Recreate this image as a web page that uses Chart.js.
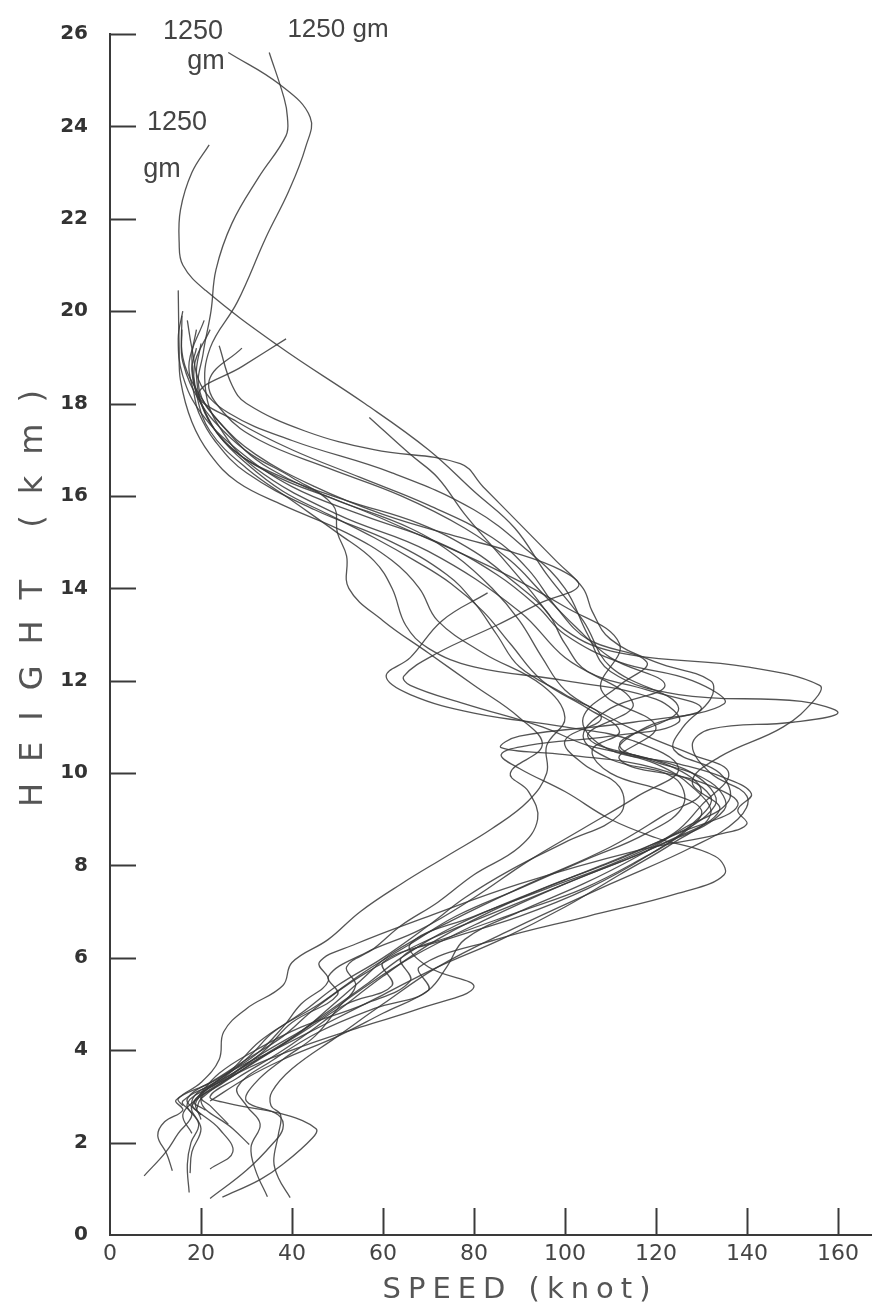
<!DOCTYPE html>
<html>
<head>
<meta charset="utf-8">
<script src="https://cdn.jsdelivr.net/npm/chart.js@4/dist/chart.umd.min.js"></script>
<style>
html,body{margin:0;padding:0;background:#fff;}
canvas{display:block;}
</style>
</head>
<body>
<canvas id="c" width="872" height="1316"></canvas>
<script>
// ---- data: wind speed (knot) vs height (km), one array per sounding ----
const xTickValues = [0, 20, 40, 60, 80, 100, 120, 140, 160];
const yTickValues = [0, 2, 4, 6, 8, 10, 12, 14, 16, 18, 20, 22, 24, 26];
const xTitle = 'SPEED (knot)';
const yTitle = 'HEIGHT (km)';
const noteTexts = ['1250', 'gm', '1250 gm', '1250', 'gm'];

const p01 = [[7.5,1.28],[12.3,1.8],[15,2.2],[18,2.6],[16,2.9],[26,3.4],[36,4.0],[46,4.7],[56,5.4],[64,6.0],[76,6.7],[95,7.5],[118,8.4],[133,9.3],[128,10.0],[112,10.6],[125,11.4],[110,12.3],[104,13.3],[96,14.3],[89,15.3],[80,16.1],[70,17.0],[56,18.0],[37,19.25],[21,20.45],[16,21.0],[15.2,21.5],[15.5,22.2],[18,23.0],[21.8,23.6]];
const p02 = [[17.4,0.92],[17,1.53],[17.8,2.0],[19.5,2.4],[17,2.85],[24,3.3],[33,3.9],[45,4.6],[55,5.3],[66,6.0],[82,6.8],[100,7.6],[120,8.4],[135,9.2],[132,9.8],[118,10.3],[105,10.8],[115,11.5],[100,12.5],[90,13.5],[70,14.8],[50,15.6],[32,16.6],[24,17.5],[21,18.3],[22,19.2],[28,20.2],[34.3,21.6],[39.3,22.6],[43,23.55],[44,24.2],[37.4,24.9],[26,25.6]];
const p03 = [[24.7,0.82],[33,1.2],[38,1.53],[44.5,2.1],[45.3,2.3],[38.6,2.6],[26,2.85],[22,3.0],[28,3.4],[38,4.0],[48,4.7],[60,5.6],[72,6.4],[88,7.2],[108,8.0],[125,8.7],[138,9.3],[130,9.8],[112,10.3],[120,11.0],[108,11.8],[112,12.8],[100,13.6],[85,14.4],[60,15.5],[35,16.6],[24,17.6],[19.6,18.3],[20.5,19.1],[22.2,20.0],[23.3,20.9],[26.8,21.9],[32.7,22.9],[38.7,23.8],[39,24.2],[38.3,24.6],[35,25.6]];
const p04 = [[39.6,0.81],[37,1.24],[36,1.6],[37,2.17],[37.5,2.6],[35.4,2.8],[35.6,3.1],[40,3.6],[50,4.3],[60,5.0],[72,5.8],[88,6.6],[110,7.6],[128,8.4],[138,9.0],[140,9.5],[132,10.0],[128,10.6],[132,10.95],[150,11.1],[160,11.3],[152,11.55],[125,11.7],[110,12.2],[105,13.0],[100,14.0],[92,14.8],[80,15.7],[62,16.5],[40,17.2],[26,17.8],[20,18.4],[18,19.2],[17,19.8]];
const p05 = [[13.7,1.39],[12.5,1.75],[10.5,2.15],[12,2.45],[16,2.7],[14.5,2.92],[22,3.3],[30,3.8],[38,4.3],[45,4.9],[55,5.6],[68,6.3],[85,7.0],[105,7.8],[122,8.5],[134,9.2],[128,9.8],[134,10.35],[148,11.0],[155,11.6],[156,11.9],[140,12.3],[112,12.6],[100,13.1],[92,14.0],[85,14.8],[78,15.6],[72,16.4],[66,16.9],[57,17.7]];
const p06 = [[30.6,1.96],[27,2.3],[20,2.9],[26,3.4],[34,4.0],[40,4.6],[50,5.2],[48,5.6],[56,6.1],[68,6.6],[80,7.3],[92,8.1],[104,8.8],[116,9.5],[125,10.1],[115,10.7],[100,11.0],[80,11.3],[66,11.7],[60.7,12.1],[66,12.5],[73,13.3],[83,13.9]];
const p07 = [[17.6,1.34],[18,1.8],[20,2.3],[18,2.8],[25,3.3],[34,3.9],[42,4.4],[48,4.9],[55,5.5],[62,6.1],[75,6.8],[92,7.6],[110,8.4],[122,9.1],[130,9.6],[122,10.2],[105,10.6],[95,11.0],[78,11.5],[66,11.9],[64.6,12.1],[72,12.6],[85,13.2],[95,13.7],[103,14.05],[99,14.4],[88,14.8],[77,15.1],[60,15.6],[45,16.2],[32,16.9],[24,17.6],[19,18.3],[16,19.0],[15.8,19.9]];
const p08 = [[22,1.43],[27,1.8],[24,2.3],[18,2.9],[27,3.5],[36,4.0],[44,4.5],[52,5.0],[62,5.4],[60,5.9],[74,6.4],[90,6.9],[105,7.5],[118,8.2],[128,8.9],[132,9.5],[120,10.1],[100,10.4],[86,10.55],[90,10.8],[115,11.1],[135,11.5],[128,12.0],[112,12.4],[100,13.0],[94,13.6],[85,14.3],[72,15.0],[55,15.6],[40,16.2],[28,17.0],[20,17.8],[16,18.6],[15,19.4],[16,20.0]];
const p09 = [[34.6,0.83],[32,1.4],[31,1.9],[33,2.4],[30,2.8],[28,3.2],[36,3.8],[46,4.4],[58,4.9],[70,5.3],[68,5.8],[85,6.4],[105,6.9],[125,7.4],[135,7.8],[133,8.2],[120,8.6],[110,9.0],[100,9.6],[90,10.1],[86,10.4],[92,10.6],[110,10.8],[125,11.1],[120,11.6],[100,12.0],[80,12.3],[70,12.7],[65,13.2],[62,14.0],[58,14.6],[50,15.2],[40,15.9],[30,16.6],[22,17.4],[19,18.2],[18,19.0],[19,19.6]];
const p10 = [[22,0.79],[30,1.4],[35.6,1.96],[38,2.3],[37,2.6],[30,2.9],[32,3.3],[38,3.8],[45,4.3],[50,4.9],[54,5.4],[52,5.8],[58,6.2],[64,6.7],[72,7.2],[80,7.8],[90,8.4],[94,9.0],[92,9.6],[88,10.0],[95,10.6],[90,11.2],[80,11.9],[70,12.6],[60,13.3],[52.5,14.0],[52,14.7],[50,15.2],[49,15.8],[40,16.4],[31,16.9],[25,17.4],[20,18.0],[16,18.9],[15.8,19.6]];
const p11 = [[20,2.6],[17,2.95],[24,3.4],[32,3.9],[38,4.5],[42,5.0],[48,5.5],[46,5.9],[54,6.3],[70,6.9],[90,7.6],[115,8.3],[135,8.7],[140,8.9],[138,9.2],[141,9.55],[135,9.9],[125,10.2],[112,10.5],[118,11.0],[130,11.4],[118,11.8],[105,12.2],[100,12.8],[96,13.5],[88,14.2],[80,14.8],[68,15.4],[52,15.9],[38,16.4],[27,17.0],[21,17.8],[19,18.6],[20,19.3]];
const p12 = [[19,2.7],[20,2.95],[28,3.5],[40,4.0],[55,4.5],[68,4.9],[80,5.37],[70,5.8],[66,6.3],[80,6.9],[96,7.5],[112,8.1],[124,8.7],[130,9.3],[136,10.0],[128,10.4],[118,10.8],[108,11.3],[100,11.8],[95,12.5],[90,13.3],[84,14.0],[76,14.7],[66,15.3],[50,15.9],[35,16.5],[25,17.2],[20,18.0],[18,18.7],[19,19.2]];
const p13 = [[16,2.8],[15,2.95],[20,3.3],[24,3.8],[25,4.4],[30,4.9],[38,5.4],[40,5.9],[48,6.4],[55,7.0],[64,7.6],[74,8.2],[84,8.8],[92,9.4],[96,10.0],[96,10.6],[100,11.2],[95,11.9],[82,12.6],[72,13.3],[68,14.0],[62,14.6],[52,15.2],[38,15.8],[28,16.3],[22,16.9],[18,17.6],[15.5,18.5],[15.2,19.2],[15,20.45]];
const p14 = [[20,2.5],[19,2.9],[26,3.5],[36,4.0],[48,4.6],[60,5.2],[72,5.8],[86,6.4],[100,7.1],[112,7.8],[124,8.5],[132,9.1],[128,9.7],[120,10.2],[108,10.6],[104,11.2],[112,11.9],[118,12.4],[105,12.9],[98,13.6],[92,14.4],[84,15.1],[70,15.8],[55,16.4],[40,17.0],[28,17.6],[19.5,18.2],[29,18.8],[38.7,19.4]];
const p15 = [[21,2.7],[18.5,2.9],[25,3.4],[31,3.9],[36,4.4],[46,5.0],[56,5.7],[66,6.3],[76,6.9],[90,7.5],[104,8.1],[118,8.7],[126,9.3],[124,9.9],[110,10.3],[104,10.8],[110,11.4],[122,11.9],[110,12.5],[102,13.2],[95,13.9],[88,14.6],[78,15.3],[64,16.0],[48,16.6],[33,17.2],[25,17.8],[21.8,18.5],[29,19.2]];
const p16 = [[22,2.9],[30,3.4],[38,3.8],[50,4.3],[60,4.8],[70,5.3],[74,5.8],[78,6.4],[90,7.0],[104,7.6],[116,8.2],[126,8.8],[136,9.4],[134,10.0],[124,10.5],[126,11.0],[132,11.6],[132,12.0],[120,12.4],[110,12.9],[106,13.5],[104,14.0],[98,14.6],[90,15.4],[82,16.2],[77,16.7],[58,17.0],[43,17.4],[30,18.0],[26.8,18.4],[24,19.25]];
const p17 = [[26,2.4],[22,2.8],[20,3.0],[27,3.6],[33,4.2],[42,4.8],[50,5.4],[60,6.0],[70,6.7],[78,7.3],[88,7.9],[100,8.5],[112,9.1],[112,9.7],[104,10.2],[100,10.7],[108,11.2],[100,11.7],[90,12.3],[85,13.0],[80,13.7],[74,14.3],[62,15.0],[45,15.7],[30,16.5],[23,17.2],[19.5,17.8],[18.5,18.2],[17.4,18.9],[20.7,19.8]];
const p18 = [[18,2.2],[16,2.6],[19,2.95],[24,3.5],[32,4.0],[42,4.5],[56,5.0],[66,5.5],[64,6.0],[76,6.5],[90,7.0],[104,7.5],[116,8.1],[126,8.7],[130,9.2],[122,9.6],[110,10.0],[106,10.5],[112,10.9],[105,11.4],[95,12.0],[88,12.8],[82,13.5],[75,14.1],[67,14.6],[58,15.1],[48,15.6],[38,16.1],[30,16.7],[24,17.3],[20,18.0],[18.5,18.8],[22,19.6]];

const profiles = [p01,p02,p03,p04,p05,p06,p07,p08,p09,p10,p11,p12,p13,p14,p15,p16,p17,p18];

// ---- drawing ----
const lineColor = 'rgba(55,55,55,0.85)';
const datasets = profiles.map((p, i) => ({
  label: 'sounding ' + (i + 1),
  data: p.map(([s, h]) => ({x: s, y: h})),
  showLine: true,
  borderColor: lineColor,
  borderWidth: 1.3,
  pointRadius: 0,
  pointHoverRadius: 0,
  tension: 0.4,
  fill: false
}));

const decorPlugin = {
  id: 'decor',
  afterDraw(chart) {
    const ctx = chart.ctx;
    const xs = chart.scales.x, ys = chart.scales.y;
    ctx.save();
    ctx.strokeStyle = '#3a3a3a';
    ctx.lineWidth = 2;
    xTickValues.forEach(v => {
      if (v === 0) return;
      const px = Math.round(xs.getPixelForValue(v)) + 0.5;
      ctx.beginPath(); ctx.moveTo(px, ys.bottom); ctx.lineTo(px, ys.bottom - 27); ctx.stroke();
    });
    yTickValues.forEach(v => {
      if (v === 0) return;
      const py = Math.round(ys.getPixelForValue(v)) + 0.5;
      ctx.beginPath(); ctx.moveTo(xs.left, py); ctx.lineTo(xs.left + 26, py); ctx.stroke();
    });
    // axis titles
    ctx.fillStyle = '#555';
    ctx.textAlign = 'center';
    ctx.textBaseline = 'middle';
    ctx.font = '29px "DejaVu Sans"';
    ctx.letterSpacing = '7px';
    ctx.fillText(xTitle, 520, 1290);
    ctx.save();
    ctx.translate(34, 598);
    ctx.rotate(-Math.PI / 2);
    ctx.font = '32px "DejaVu Sans"';
    ctx.letterSpacing = '21px';
    ctx.fillText(yTitle, 10, 0);
    ctx.restore();
    // handwritten notes
    ctx.letterSpacing = '0px';
    ctx.fillStyle = '#444';
    ctx.font = '27px "Liberation Sans"';
    ctx.fillText(noteTexts[0], 193, 32);
    ctx.fillText(noteTexts[1], 206, 62);
    ctx.font = '26px "Liberation Sans"';
    ctx.fillText(noteTexts[2], 338, 30);
    ctx.font = '27px "Liberation Sans"';
    ctx.fillText(noteTexts[3], 177, 123);
    ctx.fillText(noteTexts[4], 162, 170);
    ctx.restore();
  }
};

new Chart(document.getElementById('c'), {
  type: 'scatter',
  data: {datasets},
  options: {
    responsive: false,
    animation: false,
    events: [],
    layout: {padding: {top: 16, right: 0, left: 0, bottom: 0}},
    plugins: {legend: {display: false}, tooltip: {enabled: false}, title: {display: false}},
    scales: {
      x: {
        type: 'linear', min: 0, max: 167.5,
        afterBuildTicks: s => { s.ticks = xTickValues.map(v => ({value: v})); },
        afterFit: s => { s.height = 81; },
        grid: {display: false, drawTicks: false},
        border: {display: true, color: '#3a3a3a', width: 2},
        ticks: {color: '#444', padding: 6, maxRotation: 0, font: {family: 'DejaVu Sans', size: 22}}
      },
      y: {
        type: 'linear', min: 0, max: 26,
        afterBuildTicks: s => { s.ticks = yTickValues.map(v => ({value: v})); },
        afterFit: s => { s.width = 110; },
        grid: {display: false, drawTicks: false},
        border: {display: true, color: '#3a3a3a', width: 2},
        ticks: {color: '#333', padding: 22, font: {family: 'DejaVu Sans', size: 20, weight: 'bold'}}
      }
    }
  },
  plugins: [decorPlugin]
});
</script>
</body>
</html>
